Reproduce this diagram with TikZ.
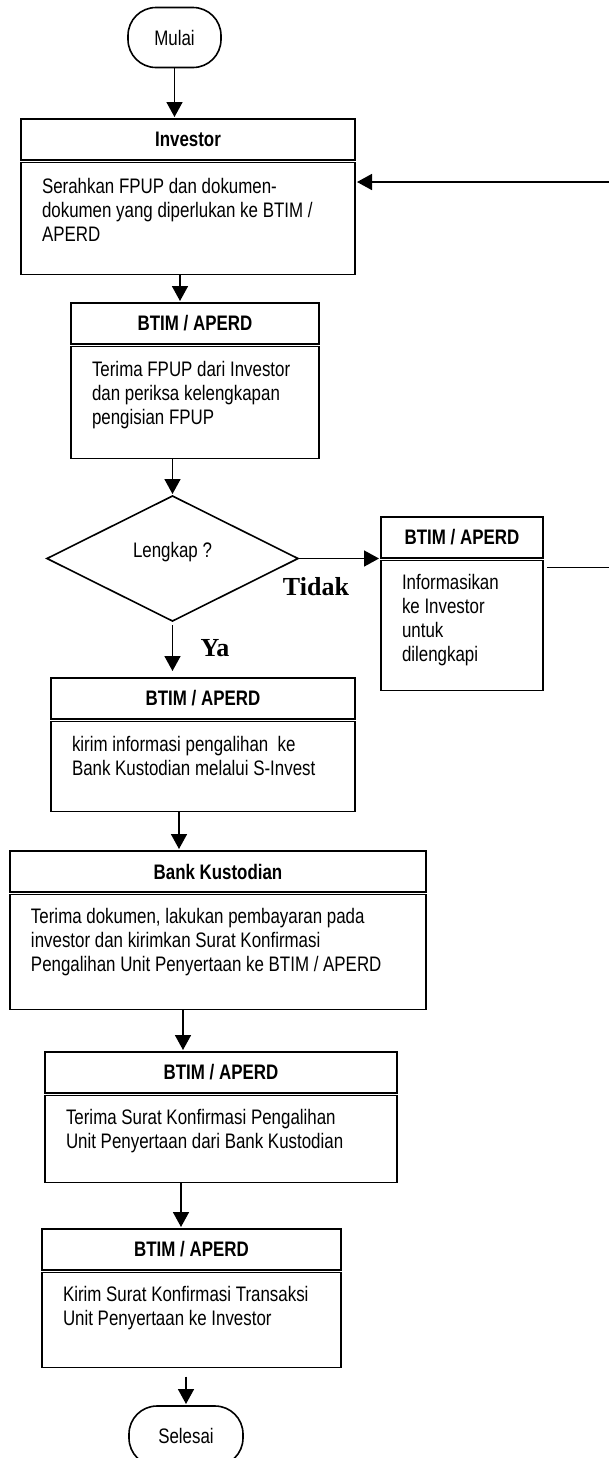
\documentclass[tikz,border=0pt]{standalone}
\usepackage{fontspec}
\setmainfont{Liberation Sans}[FakeStretch=0.805]
\newfontfamily\labelfont{Liberation Serif}
\usepackage{tikz}
\usetikzlibrary{arrows.meta,positioning,shapes.geometric,calc}

\begin{document}
\fontsize{10.5}{12}\selectfont
\begin{tikzpicture}[x=0.5pt,y=-0.5pt,
  terminal/.style={draw,rounded corners=14pt,line width=0.8pt,inner sep=0pt,outer sep=0pt},
  head/.style={draw,line width=0.8pt,font=\bfseries,minimum height=20.5pt,inner sep=0pt,outer sep=0pt,anchor=north west},
  body/.style={draw,line width=0.8pt,inner sep=0pt,outer sep=0pt},
  txt/.style={align=left,inner sep=0pt,outer sep=0pt},
  decision/.style={diamond,draw,line width=0.8pt,aspect=2,inner sep=0pt,outer sep=0pt,minimum width=125.5pt,minimum height=62.5pt,text height=7pt,text depth=8pt},
  answer/.style={font=\labelfont\fontsize{13}{15}\selectfont\bfseries},
  edge/.style={line width=0.8pt,shorten >=1pt,-{Triangle[width=8pt,length=7.5pt]}}]
\useasboundingbox (0,0) rectangle (609,1458);

\node[terminal,minimum width=46.5pt,minimum height=30pt] (mulai) at (174.5,37.5) {Mulai};

\node[head,minimum width=167pt] (invh) at (21,119) {Investor};
\node[body,minimum width=167pt,minimum height=56pt,below=1.3pt of invh.south west,anchor=north west] (inv) {};
\node[txt,below right=8pt and 10.5pt of inv.north west] (invt) {Serahkan FPUP dan dokumen-\\dokumen yang diperlukan ke BTIM /\\APERD};

\node[head,minimum width=124pt] (btah) at (71,303) {BTIM / APERD};
\node[body,minimum width=124pt,minimum height=56pt,below=1.3pt of btah.south west,anchor=north west] (bta) {};
\node[txt,below right=7.5pt and 10.5pt of bta.north west] (btat) {Terima FPUP dari Investor\\dan periksa kelengkapan\\pengisian FPUP};

\node[decision] (dec) at (172.5,558.5) {Lengkap ?};

\node[head,minimum width=81pt] (sideh) at (381,517) {BTIM / APERD};
\node[body,minimum width=81pt,minimum height=65pt,below=1.3pt of sideh.south west,anchor=north west] (side) {};
\node[txt,below right=7pt and 10.5pt of side.north west] (sidet) {Informasikan\\ke Investor\\untuk\\dilengkapi};

\node[answer] (tidak) at (316,587) {Tidak};
\node[answer] (ya) at (215,648) {Ya};

\node[head,minimum width=152pt] (btbh) at (51,678) {BTIM / APERD};
\node[body,minimum width=152pt,minimum height=45pt,below=1.3pt of btbh.south west,anchor=north west] (btb) {};
\node[txt,below right=7.5pt and 10.5pt of btb.north west] (btbt) {kirim informasi pengalihan\ \ ke\\Bank Kustodian melalui S-Invest};

\node[head,minimum width=208pt] (bankh) at (10,851) {Bank Kustodian};
\node[body,minimum width=208pt,minimum height=57.5pt,below=1.3pt of bankh.south west,anchor=north west] (bank) {};
\node[txt,below right=7pt and 10.5pt of bank.north west] (bankt) {Terima dokumen, lakukan pembayaran pada\\investor dan kirimkan Surat Konfirmasi\\Pengalihan Unit Penyertaan ke BTIM / APERD};

\node[head,minimum width=176pt] (btch) at (45,1052) {BTIM / APERD};
\node[body,minimum width=176pt,minimum height=43.5pt,below=1.3pt of btch.south west,anchor=north west] (btc) {};
\node[txt,below right=7pt and 10.5pt of btc.north west] (btct) {Terima Surat Konfirmasi Pengalihan\\Unit Penyertaan dari Bank Kustodian};

\node[head,minimum width=149.5pt] (btdh) at (42,1229) {BTIM / APERD};
\node[body,minimum width=149.5pt,minimum height=47.5pt,below=1.3pt of btdh.south west,anchor=north west] (btd) {};
\node[txt,below right=7pt and 10.5pt of btd.north west] (btdt) {Kirim Surat Konfirmasi Transaksi\\Unit Penyertaan ke Investor};

\node[terminal,minimum width=57pt,minimum height=30pt] (sel) at (186,1436) {Selesai};

\coordinate (back) at (625,182);

\draw [edge] (mulai) -- (mulai |- invh.north);
\draw [edge] ([xshift=-4pt]inv.south) -- ([xshift=-4pt]inv.south |- btah.north);
\draw [edge] (dec.north |- bta.south) -- (dec.north);
\draw [edge] (dec.east) -- (dec.east -| sideh.west);
\draw [edge,shorten >=3.5pt] ([yshift=-2pt]dec.south) -- (dec.south |- btbh.north);
\draw [edge] ([xshift=-12pt]btb.south) -- ([xshift=-12pt]btb.south |- bankh.north);
\draw [edge] ([xshift=-17.5pt]bank.south) -- ([xshift=-17.5pt]bank.south |- btch.north);
\draw [edge] ([xshift=-20pt]btc.south) -- ([xshift=-20pt]btc.south |- btdh.north);
\draw [edge] ($(btd.south -| sel.north)+(0pt,-4.5pt)$) -- (sel.north);
\draw [edge] ([xshift=2pt,yshift=-3.5pt]side.north east) -| (back) -- (back -| inv.east);
\end{tikzpicture}
\end{document}
